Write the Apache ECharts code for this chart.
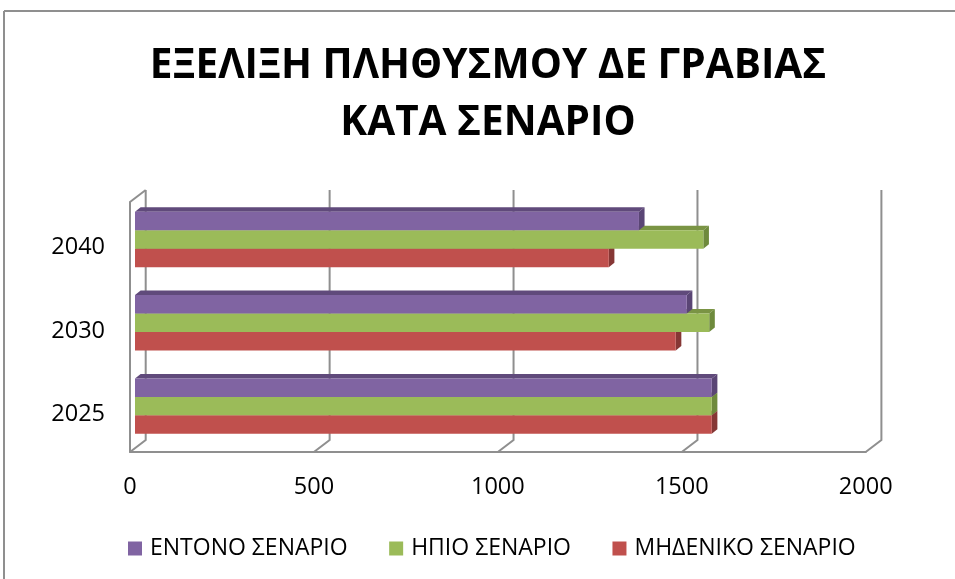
<!DOCTYPE html>
<html><head><meta charset="utf-8">
<style>html,body{margin:0;padding:0;background:#fff}#c{width:955px;height:579px}</style>
<script src="https://cdn.jsdelivr.net/npm/echarts@6/dist/echarts.min.js"></script>
</head><body><div id="c"></div>
<script>
const titleText = 'ΕΞΕΛΙΞΗ ΠΛΗΘΥΣΜΟΥ ΔΕ ΓΡΑΒΙΑΣ\nΚΑΤΑ ΣΕΝΑΡΙΟ';
const categories = ['2025', '2030', '2040'];
const xTicks = [0, 500, 1000, 1500, 2000];
const intenseName = 'ΕΝΤΟΝΟ ΣΕΝΑΡΙΟ';
const mildName = 'ΗΠΙΟ ΣΕΝΑΡΙΟ';
const zeroName = 'ΜΗΔΕΝΙΚΟ ΣΕΝΑΡΙΟ';
const intenseValues = [1568, 1500, 1370];
const mildValues = [1568, 1561, 1545];
const zeroValues = [1568, 1470, 1288];

const FONT = '"Open Sans", sans-serif';
const WALL = '#8f8f8f';
const chart = echarts.init(document.getElementById('c'), null, {renderer: 'canvas'});

function wallItem(params, api) {
  const cs = params.coordSys, bottom = cs.y + cs.height, top = cs.y;
  const xf = api.coord([api.value(0), 0])[0];
  const dx = 15.7, dy = 12;
  const children = [{
    type: 'polyline',
    shape: {points: [[xf, bottom], [xf + dx, bottom - dy], [xf + dx, top - dy]]},
    style: {stroke: WALL, lineWidth: 2, fill: null}
  }];
  if (params.dataIndex === 0) {
    children.push({type: 'line', shape: {x1: xf, y1: top, x2: xf + dx, y2: top - dy},
      style: {stroke: WALL, lineWidth: 2}});
  }
  return {type: 'group', children};
}

function barSeries(name, values, slot, color, topColor, sideColor, order) {
  return {
    name, type: 'custom', coordinateSystem: 'cartesian2d', z: 5 + order,
    itemStyle: {color},
    encode: {x: 0, y: 1},
    data: values.map((v, i) => [v, i]),
    renderItem(params, api) {
      const center = api.coord([0, api.value(1)]);
      const band = api.size([0, 1])[1];
      const end = api.coord([api.value(0), api.value(1)])[0];
      const h = band * 0.2215;
      const ox = 5, oy = -4.2, ddx = 5.6, ddy = 4.5;
      const x0 = center[0] + ox, x1 = end + ox;
      const y0 = center[1] + oy - 1.5 * h + slot * h, y1 = y0 + h;
      return {type: 'group', children: [
        {type: 'polygon', shape: {points: [[x0, y0], [x0 + ddx, y0 - ddy], [x1 + ddx, y0 - ddy], [x1, y0]]},
          style: {fill: topColor}},
        {type: 'polygon', shape: {points: [[x1, y0], [x1 + ddx, y0 - ddy], [x1 + ddx, y1 - ddy], [x1, y1]]},
          style: {fill: sideColor}},
        {type: 'rect', shape: {x: x0, y: y0, width: x1 - x0, height: h}, style: {fill: color}}
      ]};
    }
  };
}

chart.setOption({
  animation: false,
  backgroundColor: '#fff',
  title: {
    text: titleText, left: 483, top: 33, textAlign: 'center',
    textStyle: {fontFamily: FONT, fontSize: 40.5, fontWeight: 'bold', color: '#000', lineHeight: 57}
  },
  legend: {
    left: 123, top: 532, itemWidth: 14, itemHeight: 14, itemGap: 41.5,
    data: [intenseName, mildName, zeroName],
    icon: 'rect',
    textStyle: {fontFamily: FONT, fontSize: 23, color: '#000', padding: [0, 0, 0, 3]}
  },
  grid: {left: 130, width: 735.7, top: 202, height: 250},
  xAxis: {
    type: 'value', min: 0, max: 2000, interval: 500,
    axisLine: {show: true, lineStyle: {color: WALL, width: 2}},
    axisTick: {show: false}, splitLine: {show: false},
    axisLabel: {fontFamily: FONT, fontSize: 23.5, color: '#000', margin: 23, formatter: v => String(v)}
  },
  yAxis: {
    type: 'category', data: categories,
    axisLine: {show: true, onZero: false, lineStyle: {color: WALL, width: 2}},
    axisTick: {show: false}, splitLine: {show: false},
    axisLabel: {
      margin: 25,
      formatter: '{y|{value}}',
      rich: {y: {fontFamily: FONT, fontSize: 23.5, color: '#000', padding: [8, 0, 0, 0]}}
    }
  },
  graphic: [
    {type: 'line', silent: true, shape: {x1: 4, y1: 11, x2: 4, y2: 579}, style: {stroke: WALL, lineWidth: 2}},
    {type: 'line', silent: true, shape: {x1: 4, y1: 11, x2: 955, y2: 11}, style: {stroke: WALL, lineWidth: 2}}
  ],
  series: [
    {type: 'custom', coordinateSystem: 'cartesian2d', silent: true, z: 1,
     encode: {x: 0}, data: xTicks.map(t => [t, 0]), renderItem: wallItem},
    barSeries(zeroName, zeroValues, 2, '#C0504D', '#8F3B39', '#863735', 0),
    barSeries(mildName, mildValues, 1, '#9BBB59', '#7A9444', '#6E8A3C', 1),
    barSeries(intenseName, intenseValues, 0, '#8064A2', '#604A7B', '#5A4575', 2)
  ]
});
</script></body></html>
